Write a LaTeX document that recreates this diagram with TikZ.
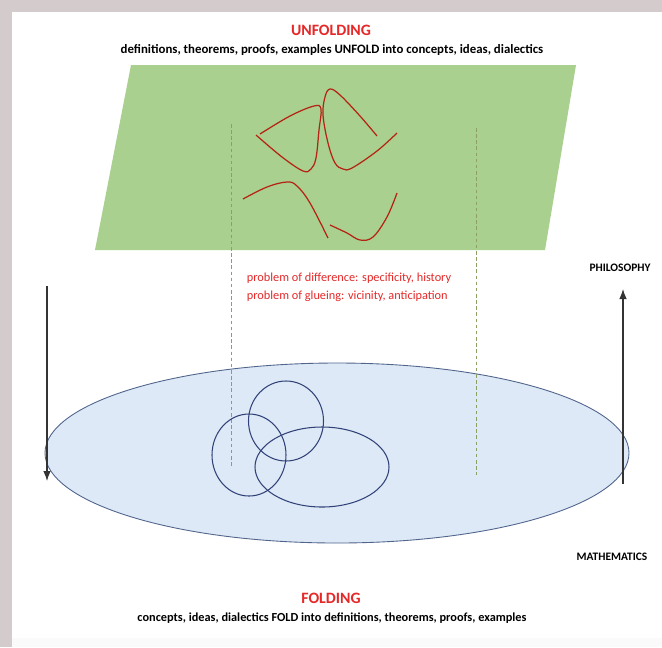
\documentclass[tikz,border=0pt]{standalone}
\usepackage{fontspec}
\setmainfont{Carlito}
\usetikzlibrary{positioning,arrows.meta}
\definecolor{planegreen}{RGB}{169,208,142}
\definecolor{discblue}{RGB}{221,233,246}
\definecolor{discedge}{RGB}{80,100,140}
\definecolor{loopblue}{RGB}{50,66,120}
\definecolor{curvered}{RGB}{180,35,20}
\definecolor{titlered}{RGB}{230,40,40}
\definecolor{guide}{RGB}{140,160,100}
\definecolor{frame}{RGB}{212,204,204}

\begin{document}
\begin{tikzpicture}[x=0.02cm, y=-0.02cm, >=Latex,
  title/.style={font=\bfseries\fontsize{9}{10}\selectfont, text=titlered, inner sep=1pt},
  caption/.style={font=\bfseries\fontsize{7}{8}\selectfont, inner sep=1pt},
  side/.style={font=\bfseries\fontsize{6.5}{7}\selectfont, inner sep=1pt},
  problem/.style={font=\fontsize{7}{10}\selectfont, text=titlered, align=left, inner sep=1pt},
  curve/.style={draw=curvered, line width=0.7pt, smooth, tension=0.6},
  loop/.style={draw=loopblue, line width=0.6pt},
  guideline/.style={draw=guide, dash pattern=on 2pt off 1.5pt, line width=0.4pt},
  flow/.style={->, line width=0.6pt, black!80}]
\useasboundingbox (0,0) rectangle (662,647);
% frame and page
\fill[frame] (0,0) rectangle (662,647);
\fill[black!2] (12,12) rectangle (662,647);
\fill[white] (12,12) rectangle (662,638);
% the two levels
\fill[planegreen] (131,65) -- (576,65) -- (545,250) -- (95,250) -- cycle;
\draw[fill=discblue, draw=discedge, line width=0.5pt] (337,453) ellipse [x radius=292, y radius=90];
% dashed guides through both levels
\draw[guideline] (231,124) -- (231,467);
\draw[guideline] (476,128) -- (476,475);
% unfolded curves
\draw[curve] plot coordinates {(260,134) (290,116) (314,106) (321,109) (319,130) (316,158) (311,169) (303,171) (282,157) (256,135)};
\draw[curve] plot coordinates {(377,136) (360,116) (340,95) (330,89) (325,97) (323,115) (328,143) (335,163) (343,169) (352,168) (377,151) (397,133)};
\draw[curve] plot coordinates {(243,199) (267,187) (287,182) (297,186) (310,203) (328,238)};
\draw[curve] plot coordinates {(330,225) (347,233) (360,240) (373,237) (387,217) (397,193)};
% folded loops
\draw[loop] (286,421) ellipse [x radius=37.5, y radius=40];
\draw[loop] (249,455) ellipse [x radius=37, y radius=41];
\draw[loop] (322,467) ellipse [x radius=67, y radius=40];
% texts
\node[title] (unf) at (331,30) {UNFOLDING};
\node[caption, font=\bfseries\fontsize{7.3}{8}\selectfont] (unfcap) at (332,50) {definitions, theorems, proofs, examples UNFOLD into concepts, ideas, dialectics};
\node[problem] (prob) at (349,287) {problem of difference: specificity, history\\problem of glueing: vicinity, anticipation};
\node[side] (phil) at (620,268) {PHILOSOPHY};
\node[side] (math) at (612,557) {MATHEMATICS};
\node[title] (fold) at (331,598) {FOLDING};
\node[caption] (foldcap) at (332,618) {concepts, ideas, dialectics FOLD into definitions, theorems, proofs, examples};
% direction arrows
\coordinate (downtop) at (47,286);
\coordinate (downend) at (47,481);
\coordinate (upbot) at (623,484);
\coordinate (upend) at (623,289);
\draw[flow] (downtop) -- (downend);
\draw[flow] (upbot) -- (upend);
\end{tikzpicture}
\end{document}
